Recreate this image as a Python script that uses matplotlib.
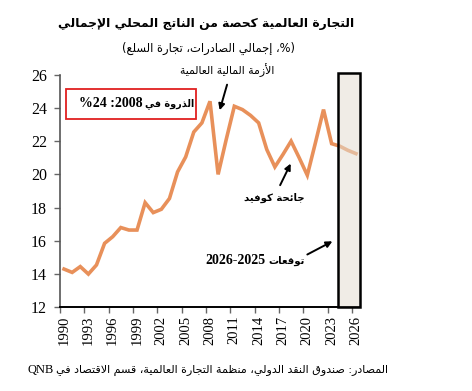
import matplotlib

matplotlib.use("Agg")
import matplotlib.pyplot as plt
from matplotlib.patches import Rectangle
from matplotlib.ticker import FixedLocator

# data
years = list(range(1990, 2027))
trade_share = [14.3, 14.1, 14.45, 14.0, 14.55, 15.85, 16.25, 16.8, 16.65, 16.65,
               18.3, 17.7, 17.9, 18.55, 20.15, 21.05, 22.55, 23.1, 24.4, 20.0,
               22.1, 24.1, 23.9, 23.55, 23.1, 21.5, 20.45, 21.2, 22.0, 21.0,
               19.95, 21.9, 23.9, 21.85, 21.7, 21.45, 21.25]
y_ticks = [12, 14, 16, 18, 20, 22, 24, 26]
x_labels = list(range(1990, 2027, 3))

TITLE = "التجارة العالمية كحصة من الناتج المحلي الإجمالي"
SUBTITLE = "(%، إجمالي الصادرات، تجارة السلع)"
SOURCE = "المصادر: صندوق النقد الدولي، منظمة التجارة العالمية، قسم الاقتصاد في"
CRISIS = "الأزمة المالية العالمية"
COVID = "جائحة كوفيد"
FORECAST = "توقعات"
PEAK = "الذروة في"

# --- minimal arabic shaping (matplotlib has no complex text layout) ---
DUAL = {'ئ': 0xFE89, 'ب': 0xFE8F, 'ت': 0xFE95, 'ث': 0xFE99, 'ج': 0xFE9D, 'ح': 0xFEA1,
        'خ': 0xFEA5, 'س': 0xFEB1, 'ش': 0xFEB5, 'ص': 0xFEB9, 'ض': 0xFEBD, 'ط': 0xFEC1,
        'ظ': 0xFEC5, 'ع': 0xFEC9, 'غ': 0xFECD, 'ف': 0xFED1, 'ق': 0xFED5, 'ك': 0xFED9,
        'ل': 0xFEDD, 'م': 0xFEE1, 'ن': 0xFEE5, 'ه': 0xFEE9, 'ي': 0xFEF1}
RIGHT = {'آ': 0xFE81, 'أ': 0xFE83, 'ؤ': 0xFE85, 'إ': 0xFE87, 'ا': 0xFE8D, 'ة': 0xFE93,
         'د': 0xFEA9, 'ذ': 0xFEAB, 'ر': 0xFEAD, 'ز': 0xFEAF, 'و': 0xFEED, 'ى': 0xFEEF}
LAM_ALEF = {'آ': 0xFEF5, 'أ': 0xFEF7, 'إ': 0xFEF9, 'ا': 0xFEFB}


def shape(text):
    out = []
    i = 0
    while i < len(text):
        c = text[i]
        if c not in DUAL and c not in RIGHT:
            out.append(c)
            i += 1
            continue
        link_prev = i > 0 and text[i - 1] in DUAL
        nxt = text[i + 1] if i + 1 < len(text) else ""
        if c == "ل" and nxt in LAM_ALEF:
            out.append(chr(LAM_ALEF[nxt] + (1 if link_prev else 0)))
            i += 2
            continue
        if c in DUAL:
            link_next = nxt in DUAL or nxt in RIGHT
            form = 3 if (link_prev and link_next) else 2 if link_next else 1 if link_prev else 0
            out.append(chr(DUAL[c] + form))
        else:
            out.append(chr(RIGHT[c] + (1 if link_prev else 0)))
        i += 1
    return "".join(out)


def ar(text):
    vis = shape(text)[::-1]
    return vis.translate(str.maketrans("()", ")("))


W, H = 472, 391
fig = plt.figure(figsize=(W / 100, H / 100), dpi=100)
ax = fig.add_axes([60 / W, 1 - 307.3 / H, 300 / W, (307.3 - 74.7) / H])

ax.plot(years, trade_share, color="#E8905A", lw=2.6, solid_joinstyle="miter", zorder=3)

ax.set_xlim(1989.5, 2026.5)
ax.set_ylim(12, 26)
ax.xaxis.set_major_locator(FixedLocator([x - 0.5 for x in x_labels]))
ax.xaxis.set_minor_locator(FixedLocator(x_labels))
ax.set_xticklabels([])
ax.set_xticklabels([str(x) for x in x_labels], minor=True, rotation=90)
ax.tick_params(axis="x", which="major", direction="out", length=4, width=1, color="#666666")
ax.tick_params(axis="x", which="minor", length=0, pad=6, labelsize=10.5)
ax.set_yticks(y_ticks)
ax.tick_params(axis="y", direction="out", length=4.5, width=1, color="#666666",
               pad=5, labelsize=11.5)
for lab in ax.get_xticklabels(minor=True) + ax.get_yticklabels():
    lab.set_family("Liberation Serif")

for side in ("top", "right"):
    ax.spines[side].set_visible(False)
ax.spines["left"].set_color("#555555")
ax.spines["left"].set_linewidth(1.2)
ax.spines["bottom"].set_color("black")
ax.spines["bottom"].set_linewidth(1.4)

# forecast shading
ax.add_patch(Rectangle((2023.75, 12), 2.75, 14.08, facecolor="#E4DED2", alpha=0.55,
                       edgecolor="none", zorder=4, clip_on=False))
ax.add_patch(Rectangle((2023.75, 12), 2.75, 14.08, facecolor="none",
                       edgecolor="black", lw=1.8, zorder=5, clip_on=False))

# peak label box
ax.add_patch(Rectangle((1990.25, 23.33), 16.0, 1.8, facecolor="white",
                       edgecolor="#E02020", lw=1.3, zorder=4))
ax.text(1999.65, 24.26, "%24 :2008", ha="right", va="center", fontsize=10,
        fontweight="bold", family="Liberation Serif", zorder=5)
ax.text(2000.0, 24.26, ar(PEAK), ha="left", va="center", fontsize=6.9,
        fontweight="bold", family="DejaVu Sans", zorder=5)

arrow = dict(arrowstyle="-|>", color="black", lw=1.4, mutation_scale=9)
ax.annotate("", xy=(2009.1, 23.7), xytext=(2010.2, 25.56), arrowprops=arrow,
            annotation_clip=False)
ax.text(2010.1, 26.3, ar(CRISIS), ha="center", va="center", fontsize=7.8,
        family="DejaVu Sans", clip_on=False)

ax.annotate("", xy=(2018.1, 20.8), xytext=(2016.5, 19.2), arrowprops=arrow)
ax.text(2015.9, 18.58, ar(COVID), ha="center", va="center", fontsize=7.3,
        fontweight="bold", family="DejaVu Sans")

ax.annotate("", xy=(2023.4, 16.05), xytext=(2019.7, 15.1), arrowprops=arrow,
            annotation_clip=False)
ax.text(2014.8, 14.82, "2026-2025", ha="right", va="center", fontsize=10,
        fontweight="bold", family="Liberation Serif")
ax.text(2015.2, 14.82, ar(FORECAST), ha="left", va="center", fontsize=7.3,
        fontweight="bold", family="DejaVu Sans")

# titles and source
fig.text(206.5 / W, 1 - 24 / H, ar(TITLE), ha="center", va="center", fontsize=8.9,
         fontweight="bold", family="DejaVu Sans")
fig.text(208 / W, 1 - 48 / H, ar(SUBTITLE), ha="center", va="center",
         fontsize=8.3, family="DejaVu Sans")
fig.text(27 / W, 1 - 370 / H, "QNB", ha="left", va="center", fontsize=9,
         family="Liberation Serif")
fig.text(388 / W, 1 - 370 / H, ar(SOURCE), ha="right", va="center", fontsize=8,
         family="DejaVu Sans")

fig.savefig("out.png", dpi=100)
